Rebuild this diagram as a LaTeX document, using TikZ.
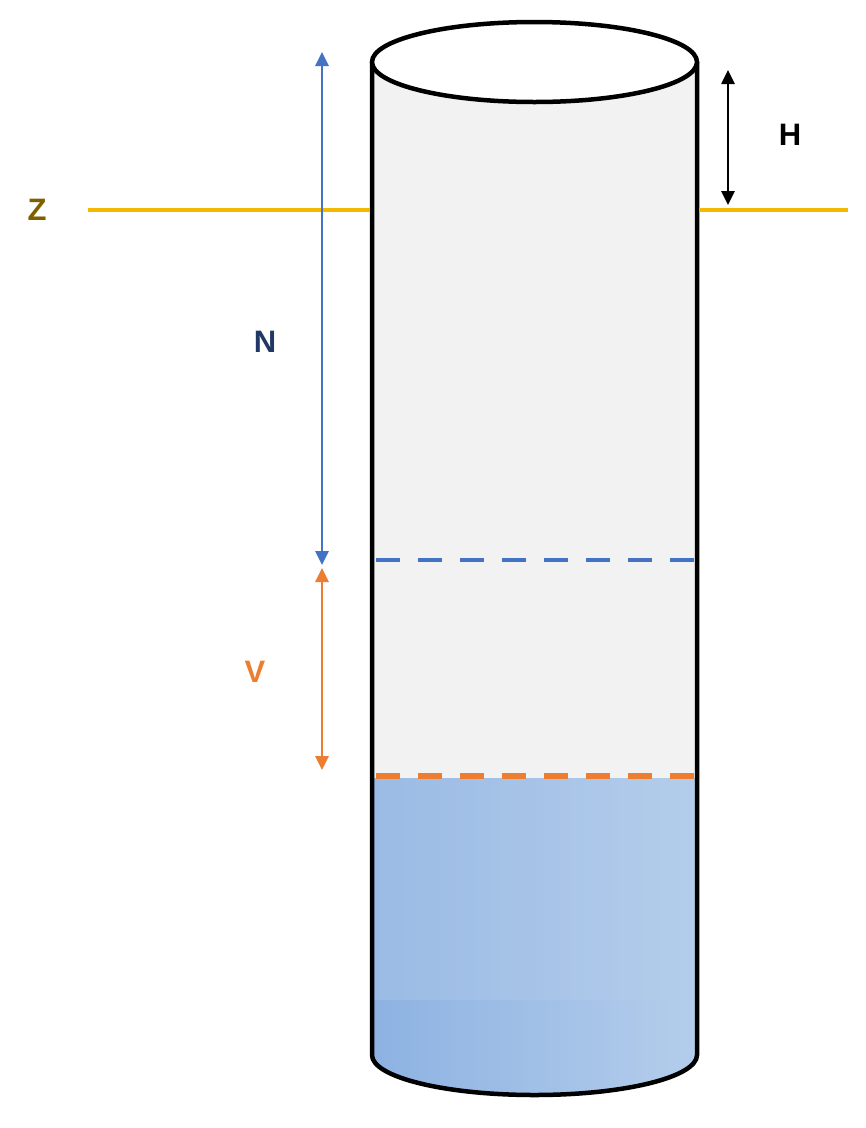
\documentclass[tikz,border=0pt]{standalone}
\usepackage{fontspec}
\setmainfont{Liberation Sans}
\usetikzlibrary{arrows.meta}
\definecolor{zcol}{HTML}{F5B800}
\definecolor{zlab}{HTML}{7F6000}
\definecolor{ncol}{HTML}{4472C4}
\definecolor{nlab}{HTML}{1F3864}
\definecolor{vcol}{HTML}{ED7D31}
\definecolor{body}{HTML}{F2F2F2}
\definecolor{wA}{HTML}{8DB2E2}
\definecolor{wB}{HTML}{B4CDEB}
\tikzset{lab/.style={font=\fontsize{31}{36}\selectfont\bfseries},
 dim/.style={line width=2.6pt,{Triangle[length=14pt,width=13pt]}-{Triangle[length=14pt,width=13pt]}}}
\begin{document}
\begin{tikzpicture}[x=1pt,y=-1pt]
\useasboundingbox (0,0) rectangle (866,1128);
\fill[body] (372,62) -- (372,1055) arc[start angle=180,end angle=360,x radius=162.5,y radius=-40] -- (697,62) -- cycle;
\shade[left color=wA,right color=wB] (372,778) -- (372,1055) arc[start angle=180,end angle=360,x radius=162.5,y radius=-40] -- (697,778) -- cycle;
\fill[wB,opacity=0.35] (372,778) rectangle (697,1000);
\draw[line width=4.5pt] (372,62) -- (372,1055) arc[start angle=180,end angle=360,x radius=162.5,y radius=-40] -- (697,62);
\draw[line width=4.5pt,fill=white] (534.5,62) ellipse[x radius=162.5,y radius=40];
\coordinate (z1) at (88,210); \coordinate (z2) at (370,210);
\coordinate (z3) at (699,210); \coordinate (z4) at (848,210);
\draw[zcol,line width=4pt] (z1) -- (z2) (z3) -- (z4);
\node[lab,text=zlab] (Z) at (37,210) {Z};
\coordinate (h1) at (728,70); \coordinate (h2) at (728,205);
\draw[dim,black] (h1) -- (h2);
\node[lab] (H) at (790,135) {H};
\coordinate (n1) at (322,52); \coordinate (n2) at (322,565);
\draw[dim,ncol] (n1) -- (n2);
\node[lab,text=nlab] (N) at (265,342) {N};
\coordinate (b1) at (376,560); \coordinate (b2) at (695,560);
\draw[ncol,line width=4pt,dash pattern=on 24pt off 18pt] (b1) -- (b2);
\coordinate (v1) at (322,568); \coordinate (v2) at (322,770);
\draw[dim,vcol] (v1) -- (v2);
\node[lab,text=vcol] (V) at (255,672) {V};
\coordinate (o1) at (376,776); \coordinate (o2) at (695,776);
\draw[vcol,line width=6pt,dash pattern=on 24pt off 18pt] (o1) -- (o2);
\end{tikzpicture}
\end{document}
